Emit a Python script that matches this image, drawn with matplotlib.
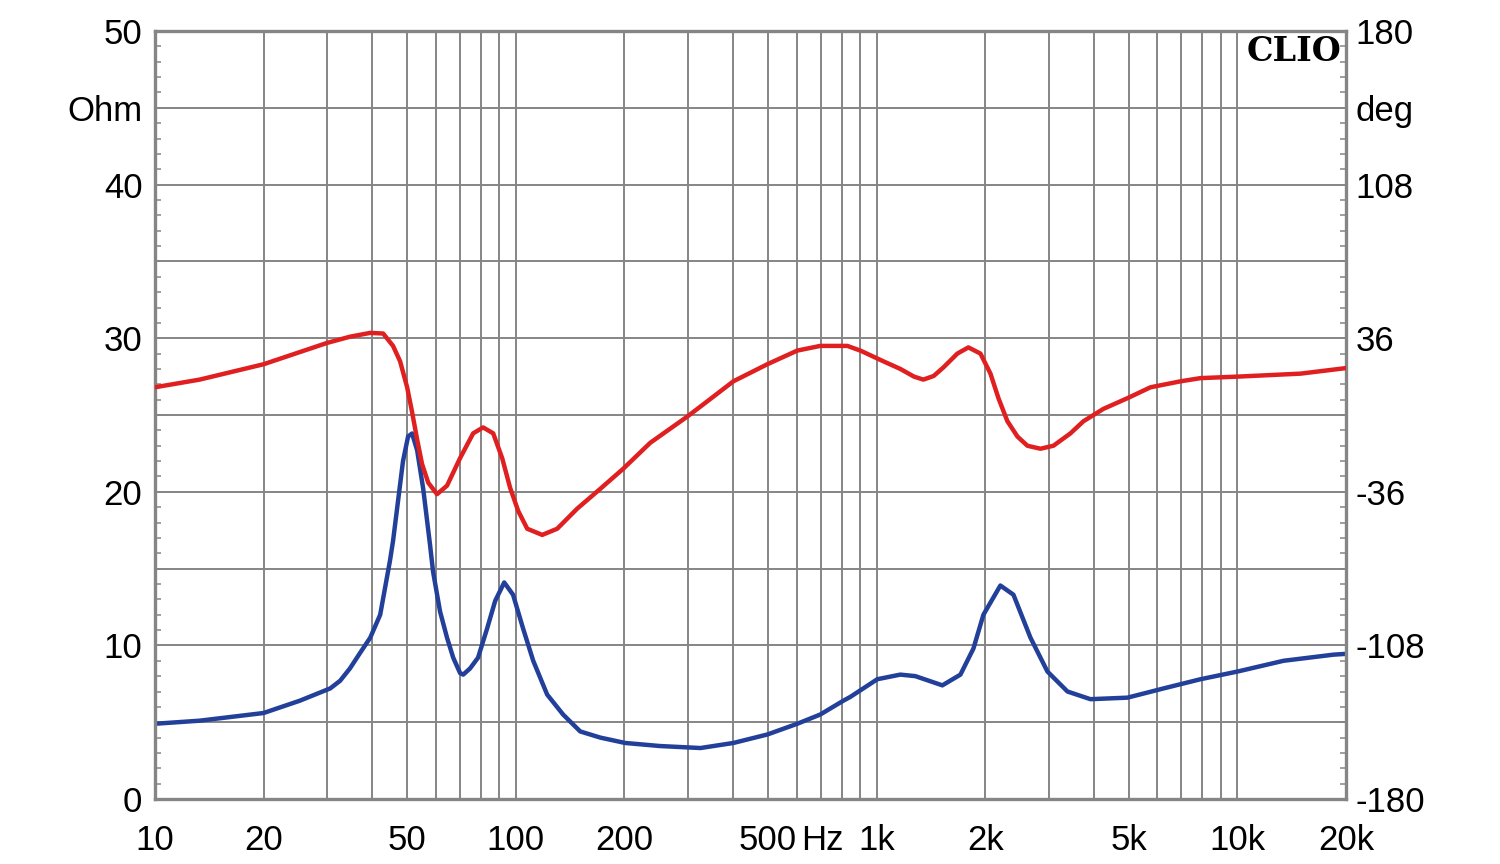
import numpy as np
import matplotlib.pyplot as plt

# impedance magnitude (Ohm), left axis
imp_freq = [10, 13.3, 20, 25.2, 30.6, 32.6, 34.7, 37.0, 39.5, 42.1,
            44.8, 45.7, 48.7, 50.3, 51.6, 53.3, 55.4, 57.9, 59.0, 61.7,
            64.5, 67.1, 70.1, 71.5, 74.7, 78.6, 83.3, 87.7, 92.9, 98.3,
            104.8, 111.8, 122.2, 135.3, 150.9, 171.5, 201, 251, 325, 401,
            498, 603, 698, 809, 846, 1005, 1164, 1281, 1522, 1708,
            1856, 1978, 2204, 2396, 2671, 2976, 3382, 3916, 4961, 6243,
            7907, 10010, 13430, 18490, 20000]
imp_ohm = [4.9, 5.1, 5.6, 6.4, 7.2, 7.7, 8.5, 9.5, 10.5, 12.0,
           15.5, 16.8, 22.0, 23.6, 23.8, 22.7, 20.2, 16.5, 14.8, 12.2,
           10.5, 9.2, 8.2, 8.1, 8.5, 9.2, 11.1, 12.9, 14.1, 13.3,
           11.1, 9.0, 6.8, 5.5, 4.4, 4.0, 3.65, 3.45, 3.32, 3.65,
           4.2, 4.9, 5.5, 6.4, 6.65, 7.8, 8.1, 8.0, 7.4, 8.1,
           9.8, 12.0, 13.9, 13.3, 10.5, 8.3, 7.0, 6.5, 6.6, 7.2,
           7.8, 8.3, 9.0, 9.4, 9.45]

# impedance phase (deg), right axis
ph_freq = [10, 13.3, 20, 25.2, 30, 34.7, 39.5, 42.9, 45.7, 47.8,
           50.0, 51.6, 53.3, 55.0, 57.2, 60.5, 64.5, 70.1, 76.2, 81.2,
           86.6, 91.7, 96.5, 101.6, 107.6, 118.4, 130.3, 148.0, 171.5, 198.5,
           236, 299, 340, 401, 498, 603, 698, 830, 902, 1044,
           1164, 1270, 1348, 1440, 1532, 1675, 1797, 1941, 2069, 2177,
           2305, 2458, 2619, 2846, 3092, 3447, 3746, 4256, 4961, 5745,
           6958, 7907, 10010, 14970, 20000]
ph_deg = [13.0, 16.6, 23.8, 29.5, 33.8, 36.7, 38.5, 38.2, 32.4, 25.2,
          13.0, 1.4, -11.5, -23.0, -31.7, -37.1, -33.1, -20.2, -8.6, -5.8,
          -8.6, -20.2, -34.2, -45.0, -53.3, -56.2, -53.3, -43.9, -34.6, -25.2,
          -13.0, -0.7, 6.5, 15.8, 23.8, 30.2, 32.4, 32.4, 30.2, 25.2,
          21.6, 18.0, 16.6, 18.3, 22.3, 28.8, 31.7, 28.8, 19.4, 7.9,
          -2.9, -10.1, -14.4, -15.8, -14.4, -8.6, -2.9, 2.9, 7.9, 13.0,
          15.8, 17.3, 18.0, 19.4, 22.0]

x_ticks = [10, 20, 50, 100, 200, 500, 707, 1000, 2000, 5000, 10000, 20000]
x_labels = ['10', '20', '50', '100', '200', '500', 'Hz', '1k', '2k', '5k', '10k', '20k']
left_ticks = [0, 10, 20, 30, 40, 45, 50]
left_labels = ['0', '10', '20', '30', '40', 'Ohm', '50']
right_ticks = [-180, -108, -36, 36, 108, 144, 180]
right_labels = ['-180', '-108', '-36', '36', '108', 'deg', '180']

grey = '#858585'
plt.rcParams['font.family'] = ['Liberation Sans', 'DejaVu Sans']

fig = plt.figure(figsize=(15, 8.64), dpi=100)
ax = fig.add_axes([0.1033, 0.0752, 0.794, 0.8889])
ax.set_xscale('log')
ax.set_xlim(10, 20000)
ax.set_ylim(0, 50)

# grid
for dec in [10, 100, 1000, 10000]:
    for m in range(1, 10):
        f = dec * m
        if 10 < f < 20000:
            ax.axvline(f, color=grey, lw=1.4, zorder=1)
for y in range(5, 50, 5):
    ax.axhline(y, color=grey, lw=1.4, zorder=1)

ax.plot(imp_freq, imp_ohm, color='#22409a', lw=3.2, zorder=3,
        solid_joinstyle='round')

ax.set_xticks(x_ticks)
ax.set_xticklabels(x_labels)
ax.xaxis.set_minor_locator(plt.NullLocator())
ax.set_yticks(left_ticks)
ax.set_yticklabels(left_labels)
ax.set_yticks(np.arange(0, 51, 1), minor=True)
ax.tick_params(axis='x', which='major', length=0, pad=18, labelsize=25)
ax.tick_params(axis='y', which='major', length=0, pad=9, labelsize=25)

for s in ax.spines.values():
    s.set_color(grey)
    s.set_linewidth(2.4)
    s.set_zorder(5)

ax2 = ax.twinx()
ax2.set_ylim(-180, 180)
ax2.plot(ph_freq, ph_deg, color='#e02020', lw=3.2, zorder=3,
         solid_joinstyle='round')
ax2.set_yticks(right_ticks)
ax2.set_yticklabels(right_labels)
ax2.tick_params(axis='y', which='major', length=0, pad=7, labelsize=25)
for s in ax2.spines.values():
    s.set_visible(False)

ax.tick_params(axis='y', which='minor', left=True, right=True, direction='in',
               length=4.5, width=1.1, color=grey)

ax.text(0.996, 0.995, 'CLIO', transform=ax.transAxes, ha='right', va='top',
        fontsize=24, fontweight='bold', family='DejaVu Serif', zorder=6)

fig.savefig('out.png', dpi=100)
